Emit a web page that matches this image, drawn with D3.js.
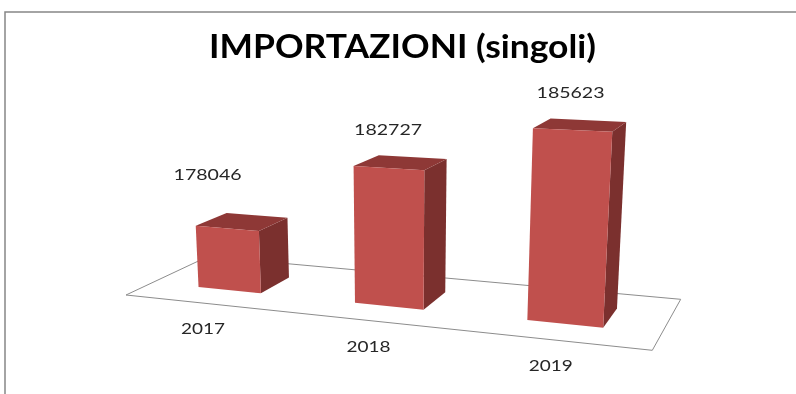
<!DOCTYPE html>
<html>
<head>
<meta charset="utf-8">
<script src="https://cdn.jsdelivr.net/npm/d3@7"></script>
<style>
  html, body { margin: 0; padding: 0; background: #fff; }
  svg { display: block; filter: blur(0.4px); }
  text { font-family: Lato, sans-serif; fill: #262626; }
</style>
</head>
<body>
<div id="chart"></div>
<script>
(function() {
  var title = 'IMPORTAZIONI (singoli)'
  var years = ['2017', '2018', '2019']
  var values = [178046, 182727, 185623]

  var width = 796
  var height = 394

  // floor outline on screen: front left, front right, back right, back left
  var floor = [[126, 295], [652.3, 350.3], [680.7, 299.3], [208, 256.5]]
  // verticals converge far below the chart
  var vanish = [400, 4700]

  // label nudges from the projected anchor
  var valueNudge = [[-34, -41.5], [-12, -28], [-9, -27]]
  var yearNudge = [[-2, 31], [-1, 31], [-1, 31]]

  var svg = d3.select('#chart').append('svg')
    .attr('width', width)
    .attr('height', height)

  var x = d3.scaleBand().domain(years).range([0.004, 0.9985]).paddingInner(0.59).paddingOuter(0.3)
  var depth = d3.scaleLinear().domain([0, 1]).range([0.3, 0.69])
  var bar = d3.scaleLinear().domain([173800, 186000]).range([0, 177])

  var project = makeCamera(floor, vanish)

  function makeCamera(q, vp) {
    var dx1 = q[1][0] - q[2][0], dx2 = q[3][0] - q[2][0], sx = q[0][0] - q[1][0] + q[2][0] - q[3][0]
    var dy1 = q[1][1] - q[2][1], dy2 = q[3][1] - q[2][1], sy = q[0][1] - q[1][1] + q[2][1] - q[3][1]
    var den = dx1 * dy2 - dx2 * dy1
    var g = (sx * dy2 - dx2 * sy) / den
    var h = (dx1 * sy - sx * dy1) / den
    var a = q[1][0] - q[0][0] + g * q[1][0], b = q[3][0] - q[0][0] + h * q[3][0]
    var d = q[1][1] - q[0][1] + g * q[1][1], e = q[3][1] - q[0][1] + h * q[3][1]
    var s = 1 / (vp[1] - q[0][1])
    return function(u, v, z) {
      var w = g * u + h * v + 1 - z * s
      return [
        (a * u + b * v + q[0][0] - z * s * vp[0]) / w,
        (d * u + e * v + q[0][1] - z * s * vp[1]) / w
      ]
    }
  }

  function pathOf(points) {
    return d3.line()(points) + 'Z'
  }

  // chart frame, open to the right and bottom
  svg.append('path')
    .attr('d', d3.line()([[5, height], [5, 12], [width, 12]]))
    .attr('fill', 'none')
    .attr('stroke', '#868686')
    .attr('stroke-width', 1.5)

  svg.append('path')
    .attr('d', pathOf(floor))
    .attr('fill', '#fff')
    .attr('stroke', '#8c8c8c')
    .attr('stroke-width', 1)

  var bars = svg.selectAll('g.bar')
    .data(years.map(function(year, i) { return {year: year, value: values[i], index: i} }))
    .enter().append('g')
    .attr('class', 'bar')

  function corners(d) {
    var u0 = x(d.year), u1 = u0 + x.bandwidth()
    var v0 = depth(0), v1 = depth(1)
    var z = bar(d.value)
    return {
      frontLo0: project(u0, v0, 0), frontLo1: project(u1, v0, 0),
      backLo1: project(u1, v1, 0),
      frontHi0: project(u0, v0, z), frontHi1: project(u1, v0, z),
      backHi0: project(u0, v1, z), backHi1: project(u1, v1, z)
    }
  }

  bars.append('path')
    .attr('fill', '#7b302e')
    .attr('d', function(d) {
      var c = corners(d)
      return pathOf([c.frontHi1, c.backHi1, c.backLo1, c.frontLo1])
    })
  bars.append('path')
    .attr('fill', '#8e3836')
    .attr('d', function(d) {
      var c = corners(d)
      return pathOf([c.frontHi0, c.backHi0, c.backHi1, c.frontHi1])
    })
  bars.append('path')
    .attr('fill', '#c0504d')
    .attr('d', function(d) {
      var c = corners(d)
      return pathOf([c.frontHi0, c.frontHi1, c.frontLo1, c.frontLo0])
    })

  svg.append('text')
    .attr('x', 402.5)
    .attr('y', 57.5)
    .attr('text-anchor', 'middle')
    .attr('font-size', 32)
    .attr('font-weight', 700)
    .attr('textLength', 387)
    .attr('lengthAdjust', 'spacingAndGlyphs')
    .style('fill', '#000')
    .text(title)

  svg.selectAll('text.value')
    .data(bars.data())
    .enter().append('text')
    .attr('class', 'value')
    .attr('text-anchor', 'middle')
    .attr('font-size', 15.5)
    .attr('textLength', 68)
    .attr('lengthAdjust', 'spacingAndGlyphs')
    .attr('transform', function(d) {
      var c = corners(d)
      var n = valueNudge[d.index]
      return 'translate(' + ((c.frontHi0[0] + c.backHi1[0]) / 2 + n[0]) + ',' + ((c.frontHi0[1] + c.backHi1[1]) / 2 + n[1]) + ')'
    })
    .text(function(d) { return d.value })

  svg.selectAll('text.year')
    .data(bars.data())
    .enter().append('text')
    .attr('class', 'year')
    .attr('text-anchor', 'middle')
    .attr('font-size', 15.5)
    .attr('textLength', 44)
    .attr('lengthAdjust', 'spacingAndGlyphs')
    .attr('transform', function(d) {
      var p = project(x(d.year) + x.bandwidth() / 2, 0, 0)
      var n = yearNudge[d.index]
      return 'translate(' + (p[0] + n[0]) + ',' + (p[1] + n[1]) + ')'
    })
    .text(function(d) { return d.year })
})()
</script>
</body>
</html>
